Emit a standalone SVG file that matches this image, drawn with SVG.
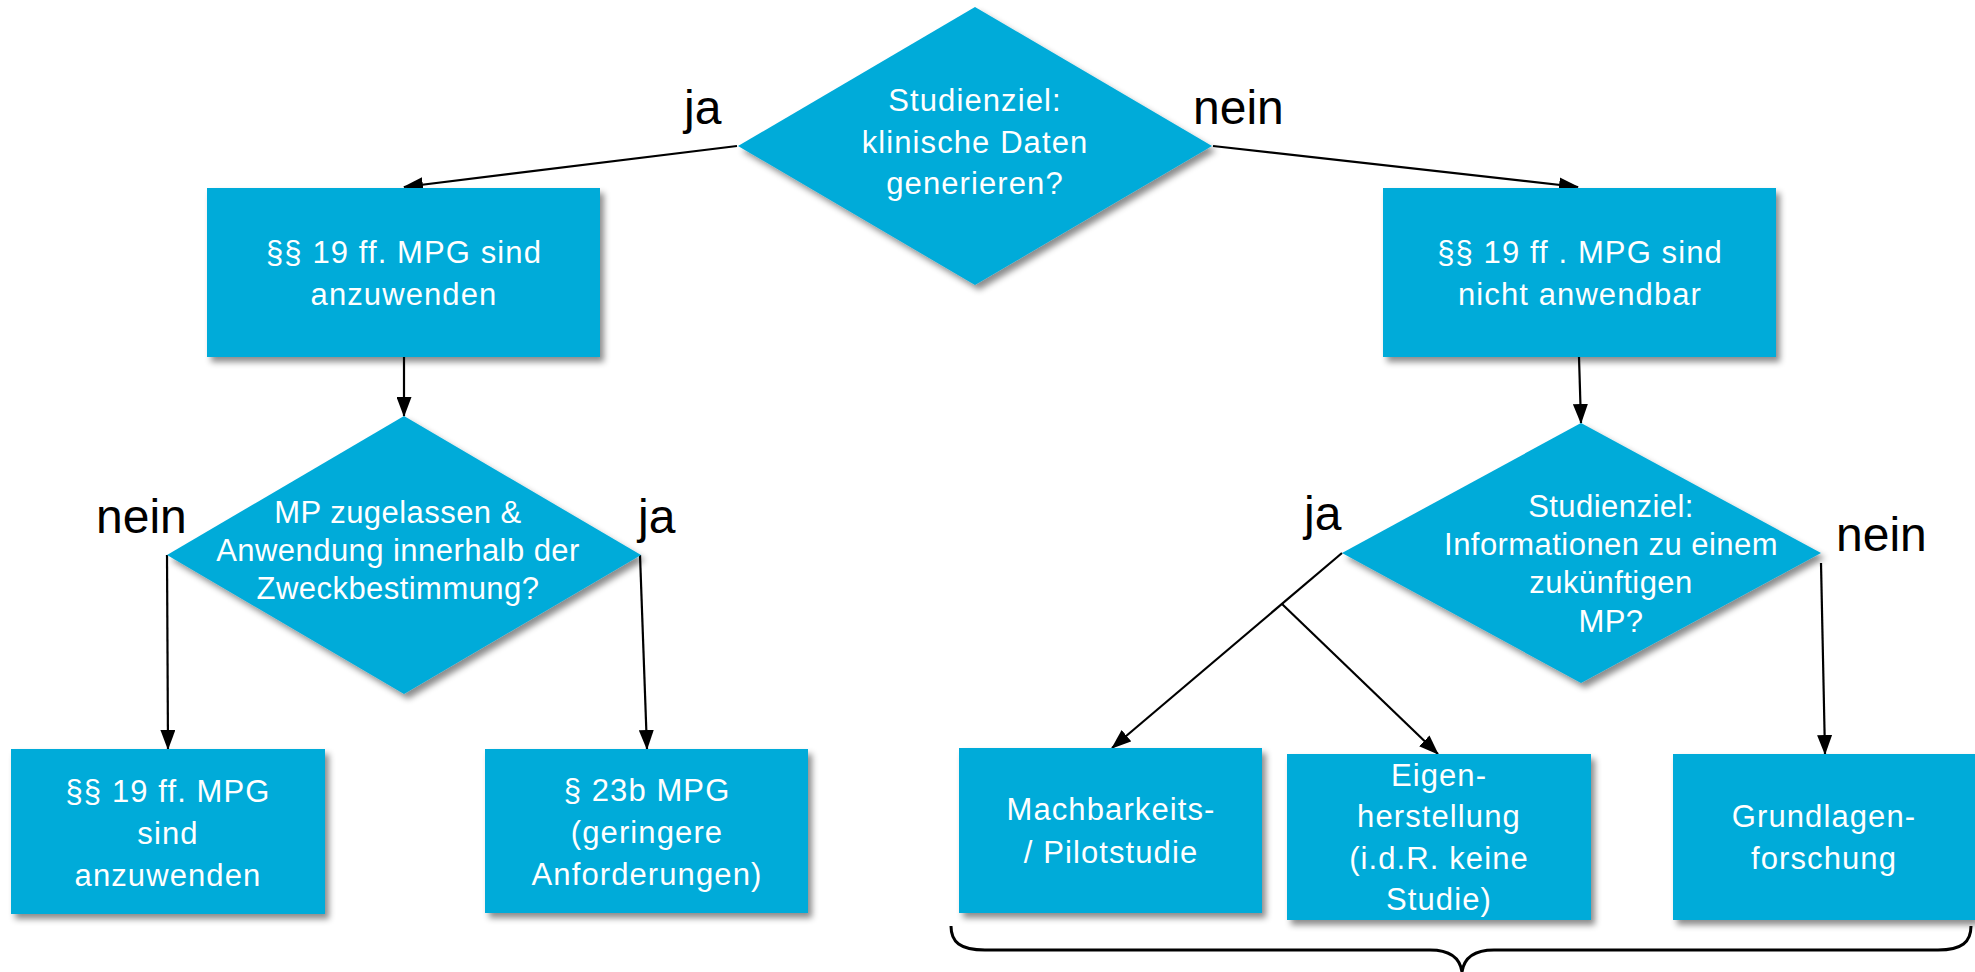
<svg xmlns="http://www.w3.org/2000/svg" width="1975" height="972" viewBox="0 0 1975 972">
<style>
.shape{fill:#00ABD9;filter:url(#sh)}
.t{font-family:"Liberation Sans",Arial,sans-serif;font-size:31px;fill:#fff;text-anchor:middle;letter-spacing:1.1px}
.td{font-family:"Liberation Sans",Arial,sans-serif;font-size:31px;fill:#fff;text-anchor:middle;letter-spacing:0.45px}
.lbl{font-family:"Liberation Sans",Arial,sans-serif;font-size:48px;fill:#000}
.c{stroke:#000;stroke-width:2.2;fill:none}
</style>
<defs>
<filter id="sh" x="-10%" y="-10%" width="130%" height="130%">
<feDropShadow dx="4" dy="5" stdDeviation="3" flood-color="#000" flood-opacity="0.45"/>
</filter>
<marker id="ah" markerUnits="userSpaceOnUse" markerWidth="20" markerHeight="15" refX="19" refY="7.5" orient="auto">
<path d="M0,0 L20,7.5 L0,15 Z" fill="#000"/>
</marker>
</defs>
<rect width="1975" height="972" fill="#fff"/>

<g id="connectors">
<line class="c" x1="737" y1="146" x2="404" y2="187" marker-end="url(#ah)"/>
<line class="c" x1="1213" y1="146" x2="1578" y2="187" marker-end="url(#ah)"/>
<line class="c" x1="404" y1="357" x2="404" y2="416" marker-end="url(#ah)"/>
<line class="c" x1="1579" y1="357" x2="1581" y2="423" marker-end="url(#ah)"/>
<line class="c" x1="167" y1="555" x2="168" y2="749" marker-end="url(#ah)"/>
<line class="c" x1="640" y1="555" x2="647" y2="749" marker-end="url(#ah)"/>
<line class="c" x1="1342" y1="553" x2="1112" y2="748" marker-end="url(#ah)"/>
<line class="c" x1="1282" y1="604" x2="1438" y2="754" marker-end="url(#ah)"/>
<line class="c" x1="1821" y1="563" x2="1825" y2="754" marker-end="url(#ah)"/>
<path d="M951,926 C951,942 960,950 985,950 L1430,950 C1450,950 1460,958 1462,972 C1464,958 1474,950 1494,950 L1938,950 C1962,950 1971,942 1971,926" stroke="#000" stroke-width="3" fill="none"/>
</g>

<g id="labels">
<text class="lbl" x="684" y="124">ja</text>
<text class="lbl" x="1193" y="124">nein</text>
<text class="lbl" x="96" y="533">nein</text>
<text class="lbl" x="638" y="533">ja</text>
<text class="lbl" x="1304" y="530">ja</text>
<text class="lbl" x="1836" y="551">nein</text>
</g>

<g id="d1">
<polygon class="shape" points="975,7 1212,146 975,285 738,146"/>
<text class="t" x="975" y="111">Studienziel:</text>
<text class="t" x="975" y="153">klinische Daten</text>
<text class="t" x="975" y="194">generieren?</text>
</g>

<g id="b1">
<rect class="shape" x="207" y="188" width="393" height="169"/>
<text class="t" x="404" y="263">§§ 19 ff. MPG sind</text>
<text class="t" x="404" y="305">anzuwenden</text>
</g>

<g id="b2">
<rect class="shape" x="1383" y="188" width="393" height="169"/>
<text class="t" x="1580" y="263">§§ 19 ff . MPG sind</text>
<text class="t" x="1580" y="305">nicht anwendbar</text>
</g>

<g id="d2">
<polygon class="shape" points="404,416 641,555 404,694 167,555"/>
<text class="td" x="398" y="523">MP zugelassen &amp;</text>
<text class="td" x="398" y="561">Anwendung innerhalb der</text>
<text class="td" x="398" y="599">Zweckbestimmung?</text>
</g>

<g id="d3">
<polygon class="shape" points="1581,423 1821,553 1581,683 1342,553"/>
<text class="td" x="1611" y="517">Studienziel:</text>
<text class="td" x="1611" y="555">Informationen zu einem</text>
<text class="td" x="1611" y="593">zukünftigen</text>
<text class="td" x="1611" y="632">MP?</text>
</g>

<g id="b3">
<rect class="shape" x="11" y="749" width="314" height="165"/>
<text class="t" x="168" y="802">§§ 19 ff. MPG</text>
<text class="t" x="168" y="844">sind</text>
<text class="t" x="168" y="886">anzuwenden</text>
</g>

<g id="b4">
<rect class="shape" x="485" y="749" width="323" height="164"/>
<text class="t" x="647" y="801">§ 23b MPG</text>
<text class="t" x="647" y="843">(geringere</text>
<text class="t" x="647" y="885">Anforderungen)</text>
</g>

<g id="b5">
<rect class="shape" x="959" y="748" width="303" height="165"/>
<text class="t" x="1111" y="820">Machbarkeits-</text>
<text class="t" x="1111" y="863">/ Pilotstudie</text>
</g>

<g id="b6">
<rect class="shape" x="1287" y="754" width="304" height="166"/>
<text class="t" x="1439" y="786">Eigen-</text>
<text class="t" x="1439" y="827">herstellung</text>
<text class="t" x="1439" y="869">(i.d.R. keine</text>
<text class="t" x="1439" y="910">Studie)</text>
</g>

<g id="b7">
<rect class="shape" x="1673" y="754" width="302" height="166"/>
<text class="t" x="1824" y="827">Grundlagen-</text>
<text class="t" x="1824" y="869">forschung</text>
</g>
</svg>
